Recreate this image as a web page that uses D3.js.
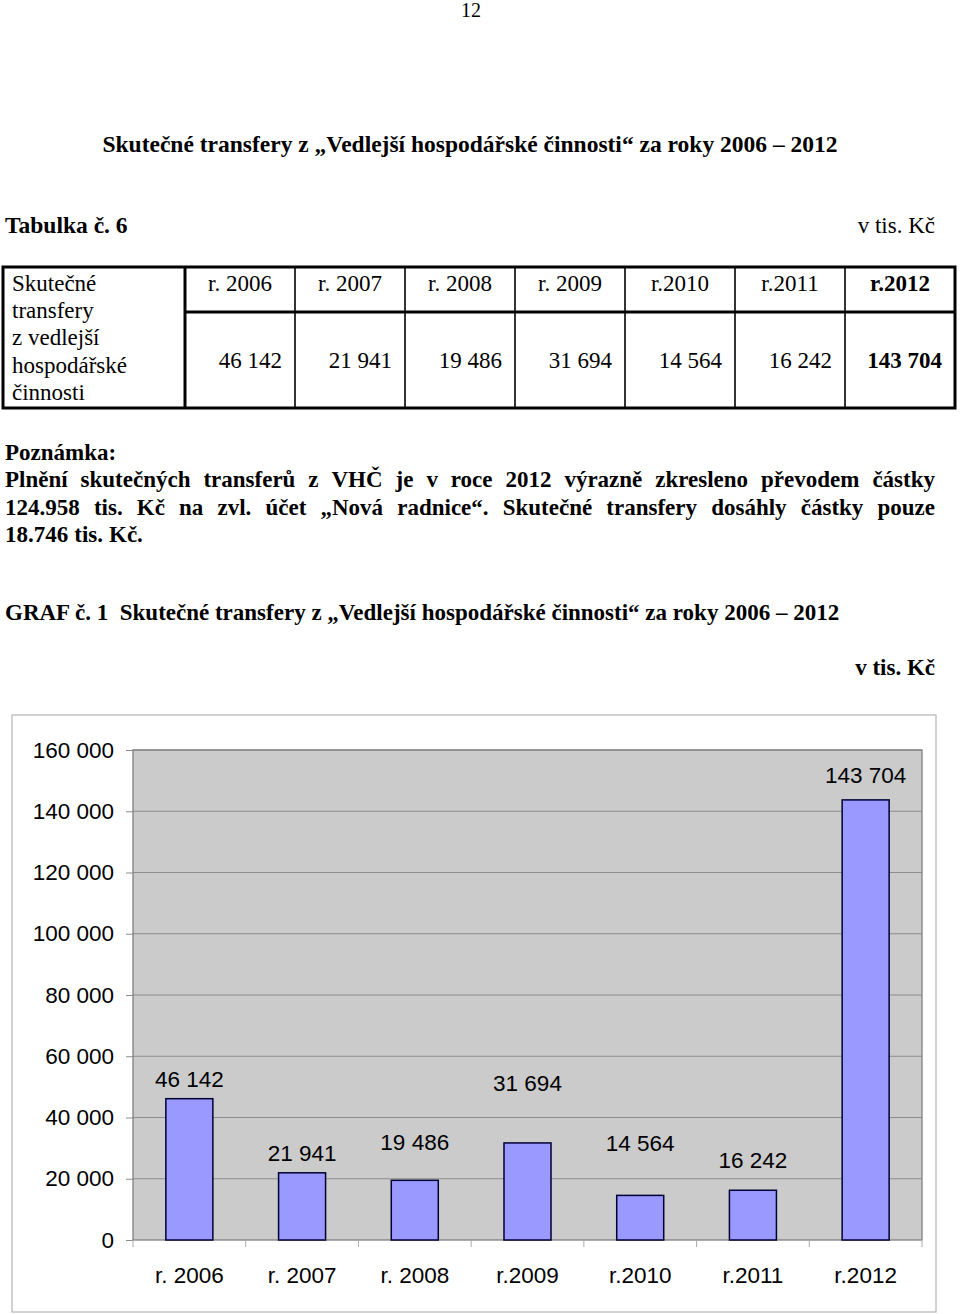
<!DOCTYPE html>
<html>
<head>
<meta charset="utf-8">
<script src="https://cdn.jsdelivr.net/npm/d3@7"></script>
<style>
  html, body { margin: 0; padding: 0; background: #fff; }
  svg { display: block; }
</style>
</head>
<body>
<svg id="page" width="960" height="1314"></svg>
<script>
// ---------- data ----------
const categories = ["r. 2006", "r. 2007", "r. 2008", "r.2009", "r.2010", "r.2011", "r.2012"];
const tableHeaders = ["r. 2006", "r. 2007", "r. 2008", "r. 2009", "r.2010", "r.2011", "r.2012"];
const values = [46142, 21941, 19486, 31694, 14564, 16242, 143704];
const yTicks = [0, 20000, 40000, 60000, 80000, 100000, 120000, 140000, 160000];
const rowLabelLines = ["Skutečné", "transfery", "z vedlejší", "hospodářské", "činnosti"];
const pageNumber = "12";
const pageTitle = "Skutečné transfery z „Vedlejší hospodářské činnosti“ za roky 2006 – 2012";
const tableTitle = "Tabulka č. 6";
const unitText = "v tis. Kč";
const noteTitle = "Poznámka:";
const noteLines = [
  "Plnění skutečných transferů z VHČ je v roce 2012 výrazně zkresleno převodem částky",
  "124.958 tis. Kč na zvl. účet „Nová radnice“. Skutečné transfery dosáhly částky pouze",
  "18.746 tis. Kč."
];
const chartTitle = "GRAF č. 1  Skutečné transfery z „Vedlejší hospodářské činnosti“ za roky 2006 – 2012";

// ---------- layout (not data) ----------
const labelLift = [12, 12, 30, 52, 44, 22, 17]; // px gap between bar top and its label baseline

const locale = d3.formatLocale({ decimal: ",", thousands: " ", grouping: [3], currency: ["", ""] });
const fmt = locale.format(",d");

const svg = d3.select("#page");
const SERIF = '"Liberation Serif", "Times New Roman", serif';
const SANS = '"Liberation Sans", Arial, sans-serif';
const CHART_FS = 22.5;

function txt(g, s, x, y, opt = {}) {
  return g.append("text")
    .attr("x", x).attr("y", y)
    .attr("font-family", opt.family || SERIF)
    .attr("font-size", opt.size || 23)
    .attr("font-weight", opt.bold ? "bold" : "normal")
    .attr("text-anchor", opt.anchor || "start")
    .attr("fill", "#000")
    .style("white-space", "pre")
    .text(s);
}

// ---------- header texts ----------
txt(svg, pageNumber, 471, 17, { size: 20, anchor: "middle" });
txt(svg, pageTitle, 470, 152, { size: 23.5, bold: true, anchor: "middle" });
txt(svg, tableTitle, 5, 233, { size: 23.5, bold: true });
txt(svg, unitText, 935, 233, { size: 23 , anchor: "end" });

// ---------- table ----------
const tbl = svg.append("g");
const tLeft = 3, tRight = 955, tTop = 267, tMid = 312, tBot = 408, firstColR = 185;
const colW = (tRight - firstColR) / tableHeaders.length;
const colX = d3.range(tableHeaders.length + 1).map(i => firstColR + i * colW);

tableHeaders.forEach((h, i) => {
  const bold = i === tableHeaders.length - 1;
  txt(tbl, h, (colX[i] + colX[i + 1]) / 2, 291, { size: 23, anchor: "middle", bold });
  txt(tbl, fmt(values[i]), colX[i + 1] - 13, 368, { size: 23, anchor: "end", bold });
});
rowLabelLines.forEach((s, i) => txt(tbl, s, 12, 291 + i * 27.2, { size: 23 }));

colX.slice(1, -1).forEach(x => {
  tbl.append("line").attr("x1", x).attr("x2", x).attr("y1", tTop).attr("y2", tBot)
    .attr("stroke", "#000").attr("stroke-width", 1.6);
});
tbl.append("line").attr("x1", firstColR).attr("x2", tRight).attr("y1", tMid).attr("y2", tMid)
  .attr("stroke", "#000").attr("stroke-width", 3);
tbl.append("line").attr("x1", firstColR).attr("x2", firstColR).attr("y1", tTop).attr("y2", tBot)
  .attr("stroke", "#000").attr("stroke-width", 3);
tbl.append("rect").attr("x", tLeft).attr("y", tTop).attr("width", tRight - tLeft).attr("height", tBot - tTop)
  .attr("fill", "none").attr("stroke", "#000").attr("stroke-width", 3);

// ---------- note ----------
txt(svg, noteTitle, 5, 460, { size: 23, bold: true });
function justifyLine(g, line, x0, x1, y, justify) {
  const words = line.split(" ");
  const nodes = words.map(w => txt(g, w, 0, y, { size: 23, bold: true }));
  const widths = nodes.map(n => n.node().getComputedTextLength());
  const total = d3.sum(widths);
  const gap = justify && words.length > 1 ? (x1 - x0 - total) / (words.length - 1) : 6;
  let x = x0;
  nodes.forEach((n, i) => { n.attr("x", x); x += widths[i] + gap; });
}
const noteBaselines = [487, 514.5, 542];
noteLines.forEach((l, i) => justifyLine(svg, l, 5, 935, noteBaselines[i], i < noteLines.length - 1));

txt(svg, chartTitle, 5, 620, { size: 23, bold: true });
txt(svg, unitText, 935, 675, { size: 23, bold: true, anchor: "end" });

// ---------- chart ----------
const frame = { x: 12, y: 715, w: 924, h: 597 };
svg.append("rect").attr("x", frame.x).attr("y", frame.y).attr("width", frame.w).attr("height", frame.h)
  .attr("fill", "#fff").attr("stroke", "#b4b4b4").attr("stroke-width", 1.2);

const plot = { left: 133, right: 922, top: 750, bottom: 1240 };
const x = d3.scaleBand().domain(categories).range([plot.left, plot.right])
  .paddingInner(0.583).paddingOuter(0.2915);
const y = d3.scaleLinear().domain([0, 160000]).range([plot.bottom, plot.top]);

const chart = svg.append("g");
chart.append("rect").attr("x", plot.left).attr("y", plot.top)
  .attr("width", plot.right - plot.left).attr("height", plot.bottom - plot.top)
  .attr("fill", "#cbcbcb");

chart.append("g").selectAll("line").data(yTicks.slice(1)).join("line")
  .attr("x1", plot.left).attr("x2", plot.right)
  .attr("y1", d => y(d)).attr("y2", d => y(d))
  .attr("stroke", "#8c8c8c").attr("stroke-width", 1);

const yAxis = chart.append("g").attr("transform", `translate(${plot.left},0)`)
  .call(d3.axisLeft(y).tickValues(yTicks).tickFormat(fmt).tickSize(7).tickPadding(12));
yAxis.select(".domain").remove();
yAxis.selectAll(".tick line").attr("stroke", "#8c8c8c");
yAxis.selectAll(".tick text").attr("font-family", SANS).attr("font-size", CHART_FS).attr("fill", "#000");

chart.append("rect").attr("x", plot.left).attr("y", plot.top)
  .attr("width", plot.right - plot.left).attr("height", plot.bottom - plot.top)
  .attr("fill", "none").attr("stroke", "#808080").attr("stroke-width", 1.3);

const step = x.step();
const bounds = categories.map(c => x(c) - step * x.paddingInner() / 2).concat([plot.right]);
chart.append("g").selectAll("line").data(bounds).join("line")
  .attr("x1", d => d).attr("x2", d => d)
  .attr("y1", plot.bottom).attr("y2", plot.bottom + 7)
  .attr("stroke", "#aaaaaa").attr("stroke-width", 1);

chart.append("g").selectAll("text").data(categories).join("text")
  .attr("x", d => x(d) + x.bandwidth() / 2).attr("y", 1283)
  .attr("text-anchor", "middle").attr("font-family", SANS).attr("font-size", CHART_FS)
  .text(d => d);

chart.append("g").selectAll("rect").data(values).join("rect")
  .attr("x", (d, i) => x(categories[i])).attr("width", x.bandwidth())
  .attr("y", d => y(d)).attr("height", d => y(0) - y(d))
  .attr("fill", "#9999ff").attr("stroke", "#000033").attr("stroke-width", 1.5);

chart.append("g").selectAll("text").data(values).join("text")
  .attr("x", (d, i) => x(categories[i]) + x.bandwidth() / 2)
  .attr("y", (d, i) => y(d) - labelLift[i])
  .attr("text-anchor", "middle").attr("font-family", SANS).attr("font-size", CHART_FS)
  .text(d => fmt(d));
</script>
</body>
</html>
